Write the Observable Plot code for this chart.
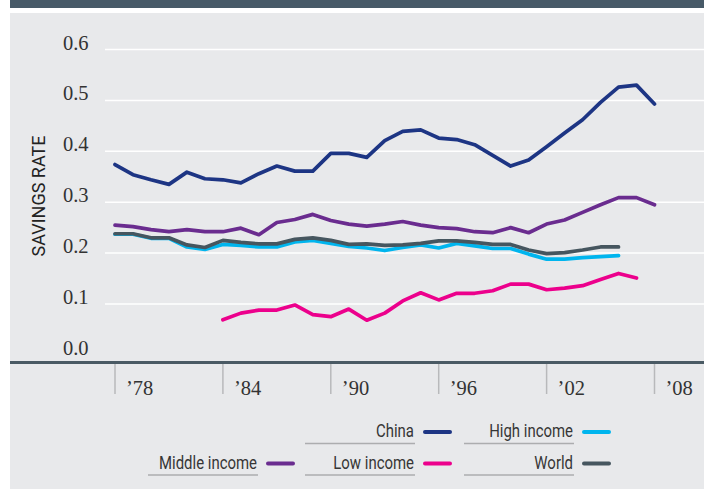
<!DOCTYPE html>
<html><head><meta charset="utf-8">
<script src="https://cdn.jsdelivr.net/npm/d3@7"></script>
<script src="https://cdn.jsdelivr.net/npm/@observablehq/plot@0.6"></script>
<style>
html,body{margin:0;padding:0;background:#fff;}
#wrap{position:relative;width:704px;height:489px;overflow:hidden;}
#bar{position:absolute;left:10px;top:0;width:694px;height:8px;background:#475a68;}
#panel{position:absolute;left:10px;top:13px;width:694px;height:476px;background:#e8e9eb;}
#chart{position:absolute;left:0;top:0;}
#legend{position:absolute;left:0;top:0;}
</style></head>
<body><div id="wrap"><div id="bar"></div><div id="panel"></div><div id="chart"></div><svg id="legend" width="704" height="489"></svg></div>
<script>
// ---- data ----
const years = [1978,1979,1980,1981,1982,1983,1984,1985,1986,1987,1988,1989,1990,1991,1992,1993,1994,1995,1996,1997,1998,1999,2000,2001,2002,2003,2004,2005,2006,2007,2008];
const china = [0.374,0.354,0.344,0.335,0.359,0.346,0.344,0.338,0.356,0.371,0.361,0.361,0.396,0.396,0.388,0.421,0.439,0.442,0.426,0.423,0.413,0.392,0.371,0.383,0.409,0.436,0.462,0.496,0.526,0.530,0.493];
const middleIncome = [0.255,0.252,0.246,0.242,0.246,0.242,0.242,0.249,0.236,0.260,0.266,0.276,0.264,0.257,0.253,0.257,0.262,0.255,0.250,0.248,0.242,0.240,0.250,0.240,0.257,0.265,0.280,0.295,0.309,0.309,0.295];
const highIncome = [0.237,0.237,0.229,0.229,0.212,0.207,0.217,0.215,0.212,0.212,0.222,0.225,0.219,0.213,0.210,0.205,0.211,0.216,0.210,0.219,0.214,0.209,0.209,0.198,0.188,0.188,0.191,0.193,0.195];
const world = [0.238,0.238,0.230,0.230,0.216,0.211,0.225,0.221,0.218,0.218,0.227,0.230,0.225,0.217,0.218,0.215,0.216,0.219,0.224,0.224,0.221,0.217,0.217,0.206,0.199,0.201,0.206,0.212,0.212];
const lowIncome = [0.069,0.082,0.088,0.088,0.098,0.079,0.075,0.090,0.068,0.082,0.106,0.122,0.108,0.121,0.121,0.126,0.139,0.139,0.128,0.131,0.136,0.148,0.160,0.151];
const lowIncomeStart = 1984;
const seriesNames = ["China","High income","Middle income","Low income","World"];
const seriesColors = ["#1d3584","#00b5ee","#6a2c8f","#ec008c","#46565f"];
const yTicks = [0,0.1,0.2,0.3,0.4,0.5,0.6];
const gridTicks = [0.1,0.2,0.3,0.4,0.5,0.6];
const xTicks = [1978,1984,1990,1996,2002,2008];
const yTitle = "SAVINGS RATE";

// ---- table ----
const rows = [];
function addSeries(name, vals, startYear){
  const i0 = years.indexOf(startYear);
  vals.forEach((v,i)=>rows.push({series:name, year:years[i0+i], value:v}));
}
addSeries("High income", highIncome, 1978);
addSeries("World", world, 1978);
addSeries("Middle income", middleIncome, 1978);
addSeries("Low income", lowIncome, lowIncomeStart);
addSeries("China", china, 1978);

const serif = "'Liberation Serif', 'DejaVu Serif', serif";
const sans = "Roboto, 'Noto Sans', sans-serif";
const yBase = -0.015;

const chart = Plot.plot({
  width: 704, height: 400,
  marginLeft: 10, marginRight: 0, marginTop: 49, marginBottom: 38,
  style: {background: "transparent", overflow: "visible"},
  x: {domain: [1978, 2008], range: [114.5, 654]},
  y: {domain: [yBase, 0.6]},
  color: {domain: seriesNames, range: seriesColors},
  marks: [
    Plot.ruleY(gridTicks, {stroke: "#ffffff", strokeWidth: 1.5, insetLeft: 95}),
    Plot.axisY({ticks: yTicks, tickSize: 0, tickPadding: 0, dx: 78, textAnchor: "end", lineAnchor: "bottom",
      tickFormat: d3.format(".1f"), fontSize: 20.5, fontFamily: serif, fill: "#333", label: null}),
    Plot.axisX({ticks: xTicks, tickSize: 32, tickFormat: () => "", stroke: "#b8b9bb", strokeWidth: 1.5, label: null}),
    Plot.axisX({ticks: xTicks, tickSize: 0, tickPadding: 32, dx: 11, textAnchor: "start", lineAnchor: "bottom",
      tickFormat: d => "\u2019" + String(d).slice(2), fontSize: 20.5, fontFamily: serif, fill: "#333", label: null}),
    Plot.ruleY([yBase], {stroke: "#4a5a64", strokeWidth: 3}),
    Plot.line(rows, {x: "year", y: "value", z: "series", stroke: "series", strokeWidth: 3.7}),
    Plot.text([yTitle], {frameAnchor: "left", textAnchor: "middle", lineAnchor: "middle", rotate: -90, dx: 28.7, dy: -10,
      fontSize: 18, fontWeight: 400, fontFamily: sans, fill: "#222"})
  ]
});
document.getElementById("chart").appendChild(chart);

// ---- legend ----
const legendLayout = [
  {name: "China", col: 1, row: 0},
  {name: "High income", col: 2, row: 0},
  {name: "Middle income", col: 0, row: 1},
  {name: "Low income", col: 1, row: 1},
  {name: "World", col: 2, row: 1}
];
const colRight = [257, 414, 573];
const rowBase = [437, 468.5];
const svg = d3.select("#legend");
legendLayout.forEach(e => {
  const xr = colRight[e.col], yb = rowBase[e.row];
  const c = seriesColors[seriesNames.indexOf(e.name)];
  svg.append("line").attr("x1", xr - 109).attr("x2", xr + 1).attr("y1", yb + 6.5).attr("y2", yb + 6.5)
    .attr("stroke", "#acadaf").attr("stroke-width", 1.6);
  svg.append("text").attr("transform", `translate(${xr},${yb}) scale(0.83,1)`).attr("text-anchor", "end")
    .attr("font-family", sans).attr("font-size", 18).attr("fill", "#363636").text(e.name);
  svg.append("line").attr("x1", xr + 11).attr("x2", xr + 36).attr("y1", yb - 5).attr("y2", yb - 5)
    .attr("stroke", c).attr("stroke-width", 4).attr("stroke-linecap", "round");
});
</script>
</body></html>
